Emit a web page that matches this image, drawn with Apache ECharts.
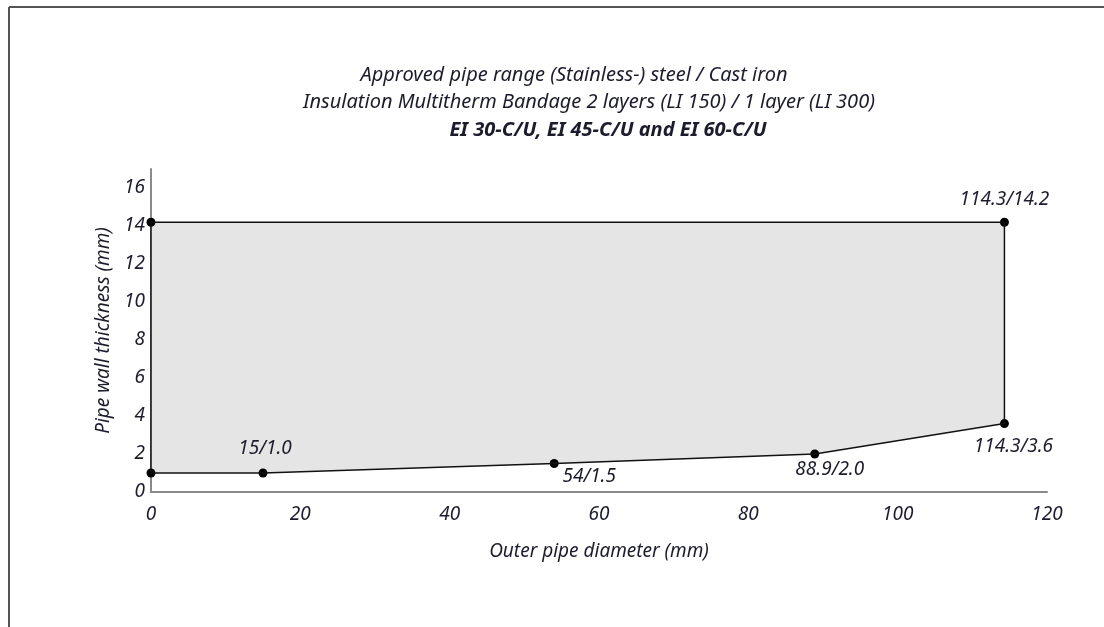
<!DOCTYPE html>
<html>
<head>
<meta charset="utf-8">
<script src="https://cdn.jsdelivr.net/npm/echarts@6/dist/echarts.min.js"></script>
<style>
  html, body { margin: 0; padding: 0; background: #fff; }
  #chart { width: 1104px; height: 627px; }
</style>
</head>
<body>
<div id="chart"></div>
<script>
// outline of the approved range, in drawing order
const diameters = [0, 114.3, 114.3, 88.9, 54, 15, 0]
const thickness = [14.2, 14.2, 3.6, 2.0, 1.5, 1.0, 1.0]
const pointLabels = ['', '114.3/14.2', '114.3/3.6', '88.9/2.0', '54/1.5', '15/1.0', '']
// label placement per point: [position, dx, dy]
const labelPlace = [
  ['top', 0, 0], ['top', 0, -4], ['bottom', 9, 4], ['bottom', 15, -3], ['bottom', 35, -6], ['top', 2, -5], ['top', 0, 0]
]
const titleLines = [
  'Approved pipe range (Stainless-) steel / Cast iron',
  'Insulation Multitherm Bandage 2 layers (LI 150) / 1 layer (LI 300)',
  'EI 30-C/U, EI 45-C/U and EI 60-C/U'
]

const ink = '#1c1c2c'
const font = 'Noto Sans'

const chart = echarts.init(document.getElementById('chart'))

const linePts = diameters.map((d, i) => [d, thickness[i]])
linePts.push([diameters[0], thickness[0]])

const option = {
  animation: false,
  title: [
    { text: titleLines[0], left: 569, top: 60, textAlign: 'center',
      textStyle: { fontFamily: font, fontStyle: 'italic', fontWeight: 'normal', fontSize: 20, color: ink } },
    { text: titleLines[1], left: 584, top: 87, textAlign: 'center',
      textStyle: { fontFamily: font, fontStyle: 'italic', fontWeight: 'normal', fontSize: 20, color: ink } },
    { text: titleLines[2], left: 603, top: 115, textAlign: 'center',
      textStyle: { fontFamily: font, fontStyle: 'italic', fontWeight: 'bold', fontSize: 20, color: ink } }
  ],
  graphic: [
    { type: 'line', shape: { x1: 9, y1: 7, x2: 1104, y2: 7 }, style: { stroke: '#555', lineWidth: 2 } },
    { type: 'line', shape: { x1: 9, y1: 7, x2: 9, y2: 627 }, style: { stroke: '#555', lineWidth: 2 } }
  ],
  grid: { left: 151, right: 57, top: 169, bottom: 135 },
  xAxis: {
    type: 'value', min: 0, max: 120, interval: 20,
    name: 'Outer pipe diameter (mm)', nameLocation: 'middle', nameGap: 50,
    nameTextStyle: { fontFamily: font, fontStyle: 'italic', fontSize: 19, color: ink },
    axisLine: { lineStyle: { color: '#8a8a8a', width: 2 } },
    axisTick: { show: false },
    splitLine: { show: false },
    axisLabel: { fontFamily: font, fontStyle: 'italic', fontSize: 19, color: ink, margin: 13 }
  },
  yAxis: {
    type: 'value', min: 0, max: 17, interval: 2,
    name: 'Pipe wall thickness (mm)', nameLocation: 'middle', nameGap: 38,
    nameTextStyle: { fontFamily: font, fontStyle: 'italic', fontSize: 19, color: ink },
    axisLine: { show: true, lineStyle: { color: '#8a8a8a', width: 2 } },
    axisTick: { show: false },
    splitLine: { show: false },
    axisLabel: { fontFamily: font, fontStyle: 'italic', fontSize: 19, color: ink, margin: 6,
      formatter: v => (v % 2 === 0 ? v : '') }
  },
  series: [
    {
      type: 'custom',
      data: [0],
      silent: true,
      renderItem: (params, api) => ({
        type: 'polygon',
        shape: { points: diameters.map((d, i) => api.coord([d, thickness[i]])) },
        style: { fill: '#e5e5e5' }
      })
    },
    {
      type: 'line',
      data: linePts,
      symbol: 'none',
      lineStyle: { color: '#111', width: 1.5 }
    },
    {
      type: 'scatter',
      symbolSize: 9,
      itemStyle: { color: '#000', opacity: 1 },
      data: diameters.map((d, i) => ({
        value: [d, thickness[i]],
        label: {
          show: pointLabels[i] !== '',
          formatter: pointLabels[i],
          position: labelPlace[i][0],
          offset: [labelPlace[i][1], labelPlace[i][2]],
          fontFamily: font, fontStyle: 'italic', fontSize: 19, color: ink
        }
      }))
    }
  ]
}

chart.setOption(option)
</script>
</body>
</html>
